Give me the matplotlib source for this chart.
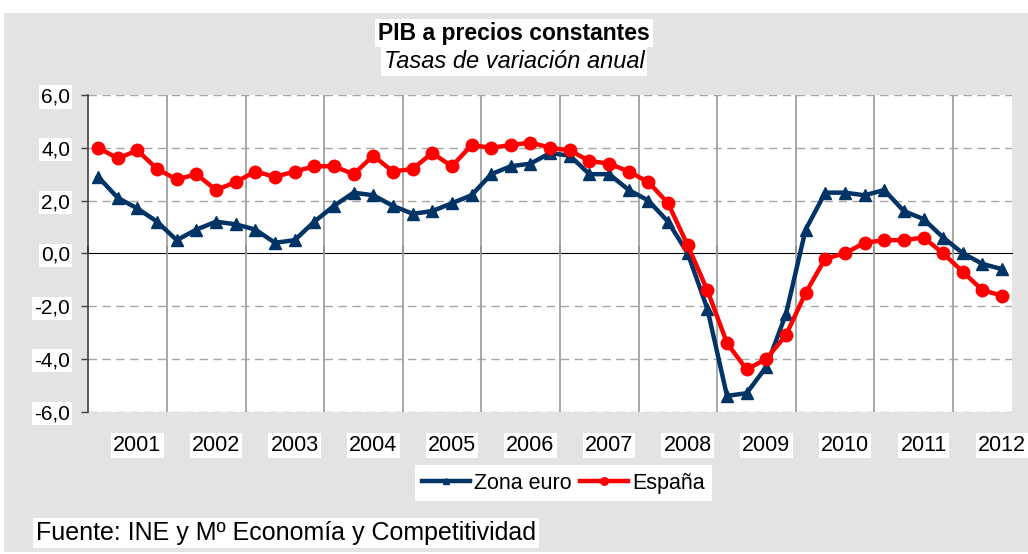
import matplotlib
matplotlib.use("Agg")
import matplotlib.pyplot as plt
import numpy as np
from matplotlib.patches import Rectangle

plt.rcParams['font.family'] = ['Liberation Sans', 'DejaVu Sans']

# quarterly data, 2001Q1 .. 2012Q3
years = ['2001', '2002', '2003', '2004', '2005', '2006',
         '2007', '2008', '2009', '2010', '2011', '2012']

zona_euro = [2.9, 2.1, 1.7, 1.2, 0.5, 0.9, 1.2, 1.1,
             0.9, 0.4, 0.5, 1.2, 1.8, 2.3, 2.2, 1.8,
             1.5, 1.6, 1.9, 2.2, 3.0, 3.3, 3.4, 3.8,
             3.7, 3.0, 3.0, 2.4, 2.0, 1.2, 0.0, -2.1,
             -5.4, -5.3, -4.3, -2.3, 0.9, 2.3, 2.3, 2.2,
             2.4, 1.6, 1.3, 0.6, 0.0, -0.4, -0.6]

espana = [4.0, 3.6, 3.9, 3.2, 2.8, 3.0, 2.4, 2.7,
          3.1, 2.9, 3.1, 3.3, 3.3, 3.0, 3.7, 3.1,
          3.2, 3.8, 3.3, 4.1, 4.0, 4.1, 4.2, 4.0,
          3.9, 3.5, 3.4, 3.1, 2.7, 1.9, 0.3, -1.4,
          -3.4, -4.4, -4.0, -3.1, -1.5, -0.2, 0.0, 0.4,
          0.5, 0.5, 0.6, 0.0, -0.7, -1.4, -1.6]

yticks = [-6, -4, -2, 0, 2, 4, 6]

x = np.arange(len(espana))
n = len(espana)

fig = plt.figure(figsize=(10.28, 5.54), dpi=100)
fig.patch.set_facecolor('white')
fig.patches.append(Rectangle((0.004, 0.004), 0.996, 0.973, transform=fig.transFigure,
                             facecolor='#e3e3e3', edgecolor='none', zorder=-10))

ax = fig.add_axes([0.0859, 0.2569, 0.8985, 0.5716])
ax.set_facecolor('white')
ax.set_xlim(-0.5, n - 0.5)
ax.set_ylim(-6, 6)

# grid
for yv in yticks:
    if yv != 0:
        ax.axhline(yv, color='#a6a6a6', lw=1.0, ls=(0, (6, 4)), zorder=1)
year_bounds = np.arange(3.5, n - 0.5, 4)
for xb in year_bounds:
    ax.axvline(xb, color='#a0a0a0', lw=1.3, zorder=1)

ax.plot(x, zona_euro, color='#003366', lw=3.2, marker='^', markersize=8,
        label='Zona euro', zorder=3)
ax.plot(x, espana, color='#ff0000', lw=3.2, marker='o', markersize=9,
        label='España', zorder=4)

for s in ['top', 'right', 'bottom']:
    ax.spines[s].set_visible(False)
ax.spines['left'].set_color('#404040')
ax.spines['left'].set_linewidth(1.2)

ax.set_yticks(yticks)
ax.set_yticklabels([('%.1f' % v).replace('.', ',') for v in yticks], fontsize=15)
ax.tick_params(axis='y', direction='out', length=5, width=1, color='#404040', pad=8)

ax.set_xticks(np.arange(2, n, 4))
ax.set_xticklabels(years, fontsize=15.5)
ax.tick_params(axis='x', length=0, pad=17)
for lab in ax.get_xticklabels() + ax.get_yticklabels():
    lab.set_bbox(dict(facecolor='white', edgecolor='none', pad=1.5))

# zero axis with ticks
sec = ax.secondary_xaxis(0.5)
sec.set_xticks(np.concatenate(([-0.5], year_bounds)))
sec.set_xticklabels([])
sec.tick_params(direction='out', length=5, width=1.2, color='black')
sec.spines['bottom'].set_color('#404040')
sec.spines['bottom'].set_linewidth(1.2)

fig.text(0.5, 0.94, 'PIB a precios constantes', ha='center', va='center',
         fontsize=16.5, fontweight='bold',
         bbox=dict(facecolor='white', edgecolor='none', pad=2))
fig.text(0.5, 0.889, 'Tasas de variación anual', ha='center', va='center',
         fontsize=17, fontstyle='italic',
         bbox=dict(facecolor='white', edgecolor='none', pad=2))

leg = fig.legend(loc='center', bbox_to_anchor=(0.548, 0.128), ncol=2, fontsize=15.5,
                 frameon=True, fancybox=False, facecolor='white', edgecolor='none',
                 framealpha=1, handlelength=2.2, handletextpad=0.2, columnspacing=0.4,
                 borderpad=0.35, markerscale=0.6)

fig.text(0.035, 0.038, 'Fuente: INE y Mº Economía y Competitividad', ha='left',
         va='center', fontsize=18,
         bbox=dict(facecolor='white', edgecolor='none', pad=2))

fig.savefig('out.png', dpi=100, facecolor=fig.get_facecolor())
